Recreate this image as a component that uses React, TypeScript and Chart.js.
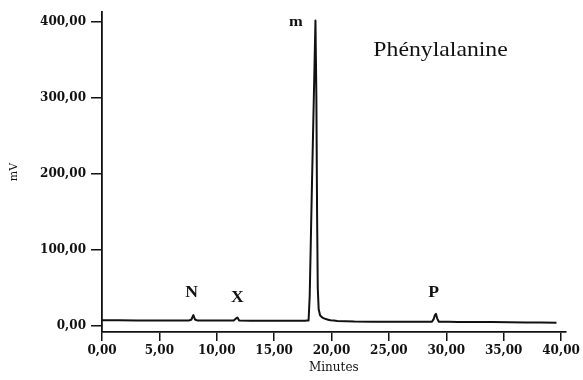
import React, { useEffect, useRef } from "react";
import { Chart, registerables } from "chart.js";

Chart.register(...registerables);

// Chromatogram trace (time in minutes, signal in mV)
const times = [0, 3, 6, 7.6, 7.8, 7.95, 8.1, 8.3, 10, 11.45, 11.65, 11.8, 11.95, 14, 16, 17.7, 18.0, 18.1, 18.3, 18.45, 18.6, 18.68, 18.74, 18.8, 18.88, 19.0, 19.2, 19.5, 19.9, 20.5, 22, 25, 28.75, 28.9, 29.0, 29.1, 29.2, 29.35, 31, 34, 37, 39.6];
const signal = [7.4, 7.3, 7.2, 7.2, 8.5, 14.5, 8.5, 7.2, 7.1, 7.0, 9.5, 11, 7.0, 6.9, 6.8, 6.8, 7.2, 40, 190, 295, 402, 300, 150, 50, 22, 14, 11, 9, 7.5, 6.5, 5.8, 5.5, 5.5, 9, 14, 16, 10, 5.5, 5.3, 5.0, 4.6, 4.3];

const xTickValues = [0, 5, 10, 15, 20, 25, 30, 35, 40];
const yTickValues = [0, 100, 200, 300, 400];

const peakLabels = ["N", "X", "m", "P"];
const peakLabelTimes = [7.8, 11.8, 16.9, 28.9];
const peakLabelValues = [44, 37, 400, 43];

const titleText = "Phénylalanine";
const titleTime = 29.5;
const titleValue = 362;

const SERIF = '"Liberation Serif", "Times New Roman", serif';
const WIDE_SERIF = '"DejaVu Serif", serif';

const fmt = (v: number) => v.toFixed(2).replace(".", ",");

function stretchedText(ctx: CanvasRenderingContext2D, text: string, x: number, y: number, sx: number) {
  ctx.save();
  ctx.translate(x, y);
  ctx.scale(sx, 1);
  ctx.fillText(text, 0, 0);
  ctx.restore();
}

const labelPlugin = {
  id: "peakLabels",
  afterDatasetsDraw(chart: any) {
    const { ctx, scales } = chart;
    const xs = scales.x;
    const ys = scales.y;
    ctx.save();
    ctx.fillStyle = "#111";
    ctx.textAlign = "center";
    ctx.textBaseline = "middle";
    peakLabels.forEach((t, i) => {
      ctx.font = `bold ${t === "m" ? 15 : 16}px ${SERIF}`;
      stretchedText(ctx, t, xs.getPixelForValue(peakLabelTimes[i]), ys.getPixelForValue(peakLabelValues[i]), 1.1);
    });
    ctx.font = `21px ${SERIF}`;
    stretchedText(ctx, titleText, xs.getPixelForValue(titleTime), ys.getPixelForValue(titleValue), 1.13);
    ctx.restore();
  },
};

export default function App() {
  const ref = useRef<HTMLCanvasElement>(null);
  useEffect(() => {
    if (!ref.current) return;
    const chart = new Chart(ref.current, {
      type: "line",
      data: {
        datasets: [
          {
            data: times.map((t, i) => ({ x: t, y: signal[i] })),
            borderColor: "#111",
            borderWidth: 2,
            borderJoinStyle: "round",
            pointRadius: 0,
            tension: 0.001,
            fill: false,
          },
        ],
      },
      options: {
        responsive: false,
        animation: false,
        layout: { padding: { top: 10, right: 16, left: 0, bottom: 0 } },
        plugins: { legend: { display: false }, tooltip: { enabled: false } },
        scales: {
          x: {
            type: "linear",
            min: 0,
            max: 40.4,
            afterBuildTicks: (s: any) => {
              s.ticks = xTickValues.map((v) => ({ value: v }));
            },
            afterFit: (s: any) => {
              s.height = 48;
            },
            border: { color: "#111", width: 1.8 },
            grid: { display: true, drawOnChartArea: false, tickLength: 9, color: "#111", lineWidth: 1.5 },
            ticks: {
              callback: (v: any) => fmt(Number(v)),
              color: "#111",
              padding: 3,
              maxRotation: 0,
              autoSkip: false,
              font: { family: WIDE_SERIF, size: 12, weight: "bold" },
            },
            title: {
              display: true,
              text: "Minutes",
              color: "#111",
              font: { family: WIDE_SERIF, size: 12 },
              padding: { top: 0, bottom: 5 },
            },
          },
          y: {
            type: "linear",
            min: -8,
            max: 413,
            afterBuildTicks: (s: any) => {
              s.ticks = yTickValues.map((v) => ({ value: v }));
            },
            afterFit: (s: any) => {
              s.width = 102;
            },
            border: { color: "#111", width: 1.8 },
            grid: { display: true, drawOnChartArea: false, tickLength: 11, color: "#111", lineWidth: 1.5 },
            ticks: {
              callback: (v: any) => fmt(Number(v)),
              color: "#111",
              padding: 5,
              autoSkip: false,
              font: { family: WIDE_SERIF, size: 12, weight: "bold" },
            },
            title: {
              display: true,
              text: "mV",
              color: "#111",
              font: { family: WIDE_SERIF, size: 11 },
              padding: { top: 8, bottom: 0 },
            },
          },
        },
      },
      plugins: [labelPlugin],
    } as any);
    return () => chart.destroy();
  }, []);
  return (
    <div style={{ position: "absolute", left: 0, top: 0, width: 583, height: 380, background: "#fff" }}>
      <canvas ref={ref} width={583} height={380} style={{ display: "block" }} />
    </div>
  );
}
